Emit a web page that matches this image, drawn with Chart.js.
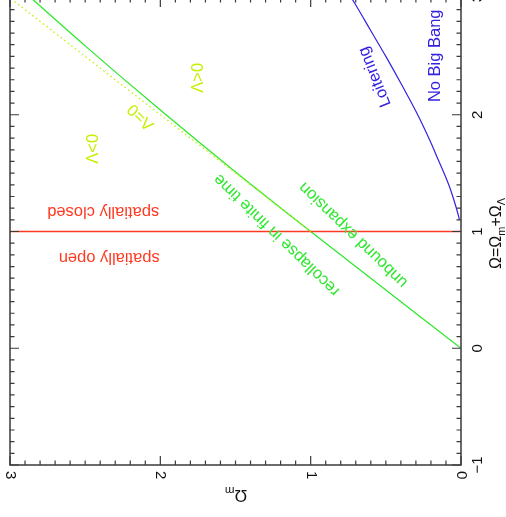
<!DOCTYPE html>
<html>
<head>
<meta charset="utf-8">
<script src="https://cdn.jsdelivr.net/npm/chart.js@4.4.1/dist/chart.umd.min.js"></script>
<style>
  html, body { margin: 0; padding: 0; background: #fff; overflow: hidden; }
  #wrap { position: absolute; left: 0; top: -20px; width: 506px; height: 537px; }
</style>
</head>
<body>
<div id="wrap"><canvas id="omega-chart" width="506" height="537"></canvas></div>
<script>
// axis ranges (Omega_m horizontal, reversed; Omega = Omega_m + Omega_Lambda vertical)
const omegaMRange = [0, 3];
const omegaRange = [-1, 3];
const omegaMTickLabels = ['0', '1', '2', '3'];
const omegaTickLabels = ['\u22121', '0', '1', '2', '3'];

// flat universe, Omega = 1
const flatOmegaM = [0, 3];
const flatOmega = [1, 1];

// Lambda = 0 (dotted)
const lambdaZeroOmegaM = [1, 3];
const lambdaZeroOmega = [1, 3];

// recollapse / unbound boundary
const recollapseOmegaM = [0, 1, 1.5, 2, 2.5, 3];
const recollapseOmega = [0, 1, 1.51, 2.04, 2.59, 3.16];

// no big bang (loitering) boundary
const noBigBangOmegaM = [0.01, 0.02, 0.04, 0.07, 0.1, 0.15, 0.2, 0.25, 0.3, 0.4, 0.5, 0.6, 0.7, 0.8];
const noBigBangOmega = [1.10, 1.15, 1.24, 1.36, 1.46, 1.61, 1.76, 1.90, 2.03, 2.27, 2.50, 2.72, 2.94, 3.15];

const FONT = '"Liberation Sans", Arial, Helvetica, sans-serif';
const GREEN = '#2fe82f';
const YELLOW = '#c4f000';
const RED = '#ff3a22';
const BLUE = '#3422e0';
const AXIS = '#3a3a3a';

// text labels placed in data coordinates
const regionLabels = [
    { text: 'spatially closed', om: 2.38, o: 1.17, angle: 180, color: RED },
    { text: 'spatially open', om: 2.34, o: 0.774, angle: 180, color: RED },
    { text: 'recollapse in finite time', om: 1.226, o: 0.971, angle: -136, color: GREEN },
    { text: 'unbound expansion', om: 0.716, o: 0.971, angle: -136, color: GREEN },
    { text: '\u039b=0', om: 2.129, o: 1.982, angle: -136, color: YELLOW },
    { text: '\u039b>0', om: 1.749, o: 2.316, angle: -90, color: YELLOW },
    { text: '\u039b<0', om: 2.448, o: 1.708, angle: -90, color: YELLOW },
    { text: 'Loitering', om: 0.572, o: 2.325, angle: -112, color: BLUE },
    { text: 'No Big Bang', om: 0.173, o: 2.505, angle: -90, color: BLUE }
];

function toPoints(xs, ys) {
    return xs.map((x, i) => ({ x: x, y: ys[i] }));
}

// draw a string made of parts, some of them subscripts
function drawRich(ctx, parts, size) {
    let total = 0;
    parts.forEach(p => {
        ctx.font = (p.sub ? size * 0.68 : size) + 'px ' + FONT;
        p.w = ctx.measureText(p.t).width;
        total += p.w;
    });
    let x = -total / 2;
    parts.forEach(p => {
        ctx.font = (p.sub ? size * 0.68 : size) + 'px ' + FONT;
        ctx.fillText(p.t, x, p.sub ? size * 0.3 : 0);
        x += p.w;
    });
}

const framePlugin = {
    id: 'frame',
    afterDatasetsDraw(chart) {
        const ctx = chart.ctx;
        const xs = chart.scales.x;
        const ys = chart.scales.y;
        const a = chart.chartArea;
        ctx.save();

        // frame
        ctx.strokeStyle = AXIS;
        ctx.lineWidth = 1.5;
        ctx.strokeRect(a.left, a.top, a.right - a.left, a.bottom - a.top);

        // ticks, every 0.1, longer at integers, pointing inward
        ctx.lineWidth = 1.2;
        ctx.beginPath();
        for (let i = Math.round(omegaMRange[0] * 10); i <= Math.round(omegaMRange[1] * 10); i++) {
            const px = xs.getPixelForValue(i / 10);
            const len = i % 10 === 0 ? 9 : 4.5;
            ctx.moveTo(px, a.bottom); ctx.lineTo(px, a.bottom - len);
            ctx.moveTo(px, a.top); ctx.lineTo(px, a.top + len);
        }
        for (let i = Math.round(omegaRange[0] * 10); i <= Math.round(omegaRange[1] * 10); i++) {
            const py = ys.getPixelForValue(i / 10);
            const len = i % 10 === 0 ? 9 : 4.5;
            ctx.moveTo(a.left, py); ctx.lineTo(a.left + len, py);
            ctx.moveTo(a.right, py); ctx.lineTo(a.right - len, py);
        }
        ctx.stroke();

        // tick labels
        ctx.fillStyle = '#111';
        ctx.font = '15px ' + FONT;
        ctx.textBaseline = 'middle';
        omegaMTickLabels.forEach(lbl => {
            const px = xs.getPixelForValue(parseFloat(lbl));
            ctx.save();
            ctx.translate(px, a.bottom + 6);
            ctx.rotate(Math.PI / 2);
            ctx.textAlign = 'left';
            ctx.fillText(lbl, 0, 0);
            ctx.restore();
        });
        omegaTickLabels.forEach(lbl => {
            const py = ys.getPixelForValue(parseFloat(lbl.replace('\u2212', '-')));
            ctx.save();
            ctx.translate(a.right + 17, py);
            ctx.rotate(-Math.PI / 2);
            ctx.textAlign = 'center';
            ctx.fillText(lbl, 0, 0);
            ctx.restore();
        });

        // axis titles
        ctx.textAlign = 'left';
        ctx.textBaseline = 'middle';
        ctx.save();
        ctx.translate(236, a.bottom + 30);
        ctx.rotate(Math.PI);
        drawRich(ctx, [{ t: '\u03a9' }, { t: 'm', sub: true }], 17);
        ctx.restore();

        ctx.save();
        ctx.translate(a.right + 36, (a.top + a.bottom) / 2 + 2);
        ctx.rotate(-Math.PI / 2);
        drawRich(ctx, [{ t: '\u03a9=\u03a9' }, { t: 'm', sub: true }, { t: '+\u03a9' }, { t: '\u039b', sub: true }], 16);
        ctx.restore();

        // region labels
        ctx.font = '16.5px ' + FONT;
        ctx.textAlign = 'center';
        regionLabels.forEach(l => {
            ctx.save();
            ctx.translate(xs.getPixelForValue(l.om), ys.getPixelForValue(l.o));
            ctx.rotate(l.angle * Math.PI / 180);
            ctx.fillStyle = l.color;
            ctx.fillText(l.text, 0, 0);
            ctx.restore();
        });

        ctx.restore();
    }
};

const ctx = document.getElementById('omega-chart').getContext('2d');
const omegaChart = new Chart(ctx, {
    type: 'scatter',
    data: {
        datasets: [
            {
                label: 'Lambda = 0',
                data: toPoints(lambdaZeroOmegaM, lambdaZeroOmega),
                showLine: true,
                borderColor: YELLOW,
                borderWidth: 1.3,
                borderDash: [1.5, 3],
                pointRadius: 0
            },
            {
                label: 'Omega = 1',
                data: toPoints(flatOmegaM, flatOmega),
                showLine: true,
                borderColor: RED,
                borderWidth: 1.5,
                pointRadius: 0
            },
            {
                label: 'recollapse',
                data: toPoints(recollapseOmegaM, recollapseOmega),
                showLine: true,
                borderColor: GREEN,
                borderWidth: 1.3,
                pointRadius: 0,
                cubicInterpolationMode: 'monotone'
            },
            {
                label: 'no big bang',
                data: toPoints(noBigBangOmegaM, noBigBangOmega),
                showLine: true,
                borderColor: BLUE,
                borderWidth: 1.2,
                pointRadius: 0,
                cubicInterpolationMode: 'monotone'
            }
        ]
    },
    options: {
        responsive: false,
        animation: false,
        devicePixelRatio: 1,
        layout: { padding: { left: 10, right: 45, top: 18, bottom: 52 } },
        plugins: { legend: { display: false }, tooltip: { enabled: false } },
        scales: {
            x: { type: 'linear', reverse: true, min: omegaMRange[0], max: omegaMRange[1], display: false },
            y: { type: 'linear', min: omegaRange[0], max: omegaRange[1], display: false }
        }
    },
    plugins: [framePlugin]
});
</script>
</body>
</html>
